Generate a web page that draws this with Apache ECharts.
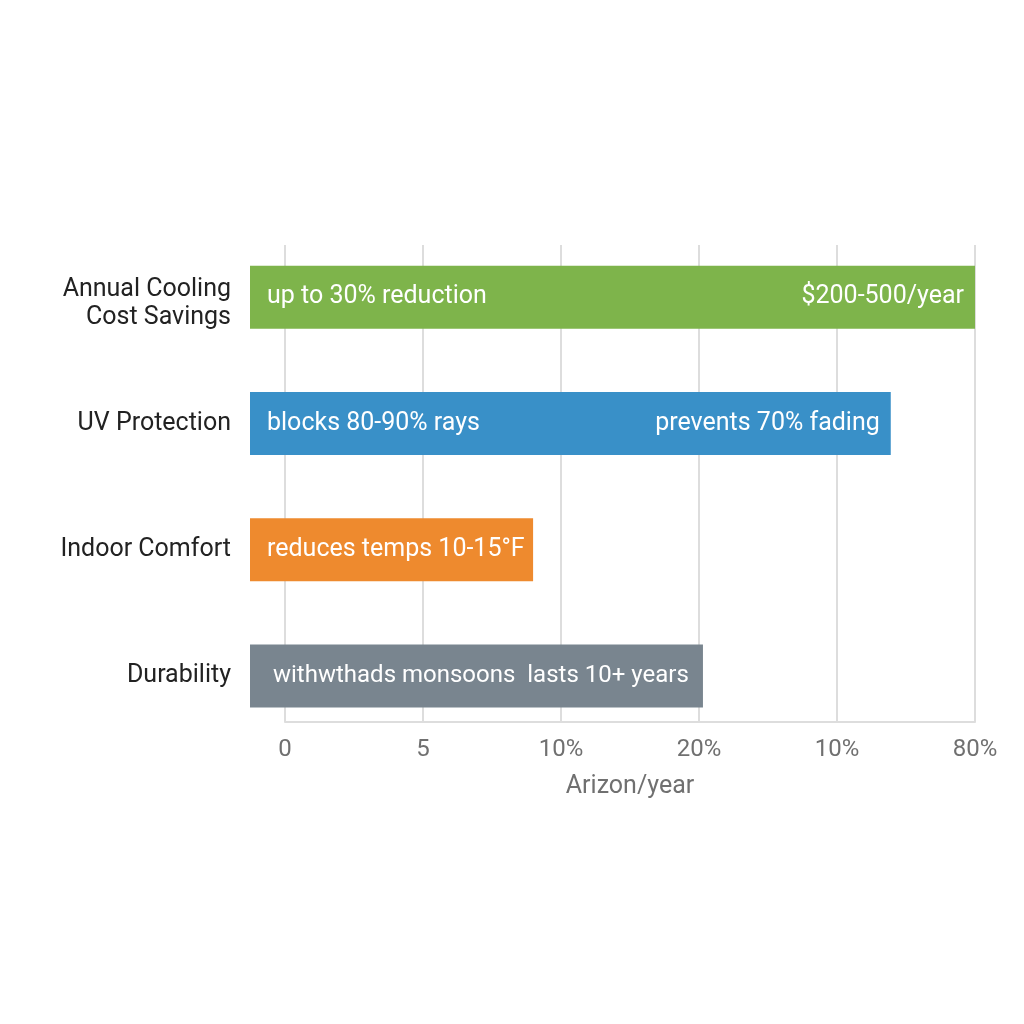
<!DOCTYPE html>
<html><head><meta charset="utf-8">
<script src="https://cdn.jsdelivr.net/npm/echarts@6/dist/echarts.min.js"></script>
<style>html,body{margin:0;padding:0;background:#fff}#c{width:1024px;height:1024px}</style>
</head><body><div id="c"></div>
<script>
const categories = ['Annual Cooling\nCost Savings', 'UV Protection', 'Indoor Comfort', 'Durability'];
const barLengths = [5.25, 4.64, 2.05, 3.28];
const leftLabels = ['up to 30% reduction', 'blocks 80-90% rays', 'reduces temps 10-15°F', 'withwthads monsoons  lasts 10+ years'];
const rightLabels = ['$200-500/year', 'prevents 70% fading', '', ''];
const barColors = ['#7eb44b', '#3990c8', '#ee8a2e', '#79858f'];
const tickValues = [0, 1, 2, 3, 4, 5];
const tickLabels = ['0', '5', '10%', '20%', '10%', '80%'];
const axisName = 'Arizon/year';

const chart = echarts.init(document.getElementById('c'));
chart.setOption({
  backgroundColor: '#ffffff',
  animation: false,
  textStyle: { fontFamily: 'Roboto' },
  grid: [
    { left: 285, right: 49, top: 245, bottom: 302 },
    { left: 250, right: 49, top: 234, height: 505 }
  ],
  xAxis: [
    {
      gridIndex: 0, type: 'value', min: 0, max: 5, interval: 1,
      axisLine: { show: true, lineStyle: { color: '#dddddd', width: 2 } },
      axisTick: { show: false },
      splitLine: { show: true, lineStyle: { color: '#dddddd', width: 2 } },
      axisLabel: { color: '#707070', fontSize: 24, margin: 16,
        formatter: function (v) { const i = tickValues.indexOf(v); return i >= 0 ? tickLabels[i] : ''; } },
      name: axisName, nameLocation: 'middle', nameGap: 52,
      nameTextStyle: { color: '#707070', fontSize: 25 }
    },
    {
      gridIndex: 1, type: 'value', min: 0, max: 5.25, show: false
    }
  ],
  yAxis: [
    { gridIndex: 0, type: 'value', show: false },
    {
      gridIndex: 1, type: 'category', inverse: true, data: categories,
      axisLine: { show: false }, axisTick: { show: false },
      axisLabel: {
        color: '#222222', fontSize: 25, margin: 19, lineHeight: 28, align: 'right',
        formatter: function (v) {
          const lines = v.split('\n');
          if (lines.length < 2) return '{n|' + v + '}';
          return '{g|}\n' + lines.map(l => '{n|' + l + '}').join('\n');
        },
        rich: {
          n: { color: '#222222', fontSize: 25, lineHeight: 28, fontFamily: 'Roboto' },
          g: { fontSize: 10, lineHeight: 14 }
        }
      }
    }
  ],
  series: [
    {
      type: 'bar', xAxisIndex: 1, yAxisIndex: 1, barWidth: 63,
      data: barLengths.map((v, i) => ({
        value: v, itemStyle: { color: barColors[i] },
        label: i === 3 ? { fontSize: 24, distance: 23 } : {}
      })),
      label: { show: true, position: 'insideLeft', distance: 17, color: '#ffffff', fontSize: 25,
        formatter: p => leftLabels[p.dataIndex] }
    },
    {
      type: 'bar', xAxisIndex: 1, yAxisIndex: 1, barWidth: 63, barGap: '-100%', z: 3,
      data: barLengths.map(v => ({ value: v, itemStyle: { color: 'rgba(0,0,0,0)' } })),
      label: { show: true, position: 'insideRight', distance: 11, color: '#ffffff', fontSize: 25,
        formatter: p => rightLabels[p.dataIndex] }
    }
  ]
});
</script></body></html>
